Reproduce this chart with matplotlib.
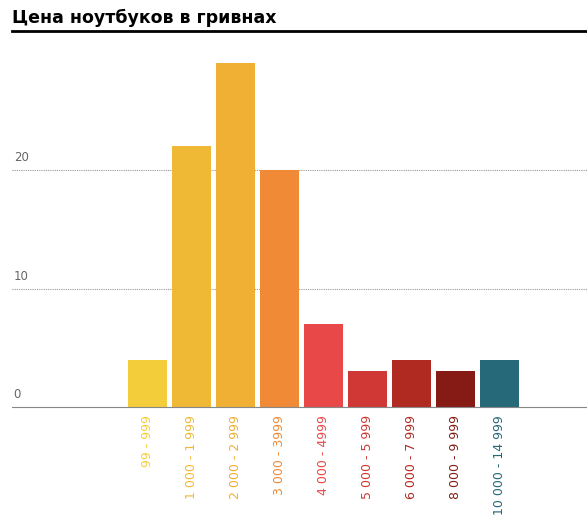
import matplotlib.pyplot as plt

categories = ['99 - 999', '1 000 - 1 999', '2 000 - 2 999', '3 000 - 3999', '4 000 - 4999',
              '5 000 - 5 999', '6 000 - 7 999', '8 000 - 9 999', '10 000 - 14 999']
values = [4, 22, 29, 20, 7, 3, 4, 3, 4]
colors = ['#f4cd3a', '#f0b935', '#f0b033', '#f08a36', '#e84848', '#cf3835', '#b12a22', '#861b16', '#266978']

fig = plt.figure(figsize=(5.87, 5.17), dpi=100)
ax = fig.add_axes([12/587, 1 - 407/517, 575/587, 377/517])
x = list(range(len(values)))
ax.bar(x, values, width=0.89, color=colors, zorder=2)
ax.set_xlim(-3.08, 9.99)
ax.set_ylim(0, 377 / 11.85)
for v in [10, 20]:
    ax.axhline(v, color='#999999', lw=0.8, ls=(0, (1, 1)), zorder=1)
for v in [0, 10, 20]:
    ax.text(0.003, v + 0.5, str(v), transform=ax.get_yaxis_transform(), fontsize=8.5,
            color='#666666', ha='left', va='bottom')
for s in ['top', 'right', 'left']:
    ax.spines[s].set_visible(False)
ax.spines['bottom'].set_color('#888888')
ax.set_yticks([])
ax.set_xticks(x)
ax.set_xticklabels(categories, rotation=90, fontsize=9)
for lab, c in zip(ax.get_xticklabels(), colors):
    lab.set_color(c)
ax.tick_params(axis='x', length=0, pad=6)

fig.text(12/587, 1 - 18/517, 'Цена ноутбуков в гривнах', fontsize=12.5, fontweight='bold',
         ha='left', va='center')
fig.add_artist(plt.Line2D([12/587, 1], [1 - 31/517] * 2, color='black', lw=2))
fig.savefig('out.png', dpi=100)
